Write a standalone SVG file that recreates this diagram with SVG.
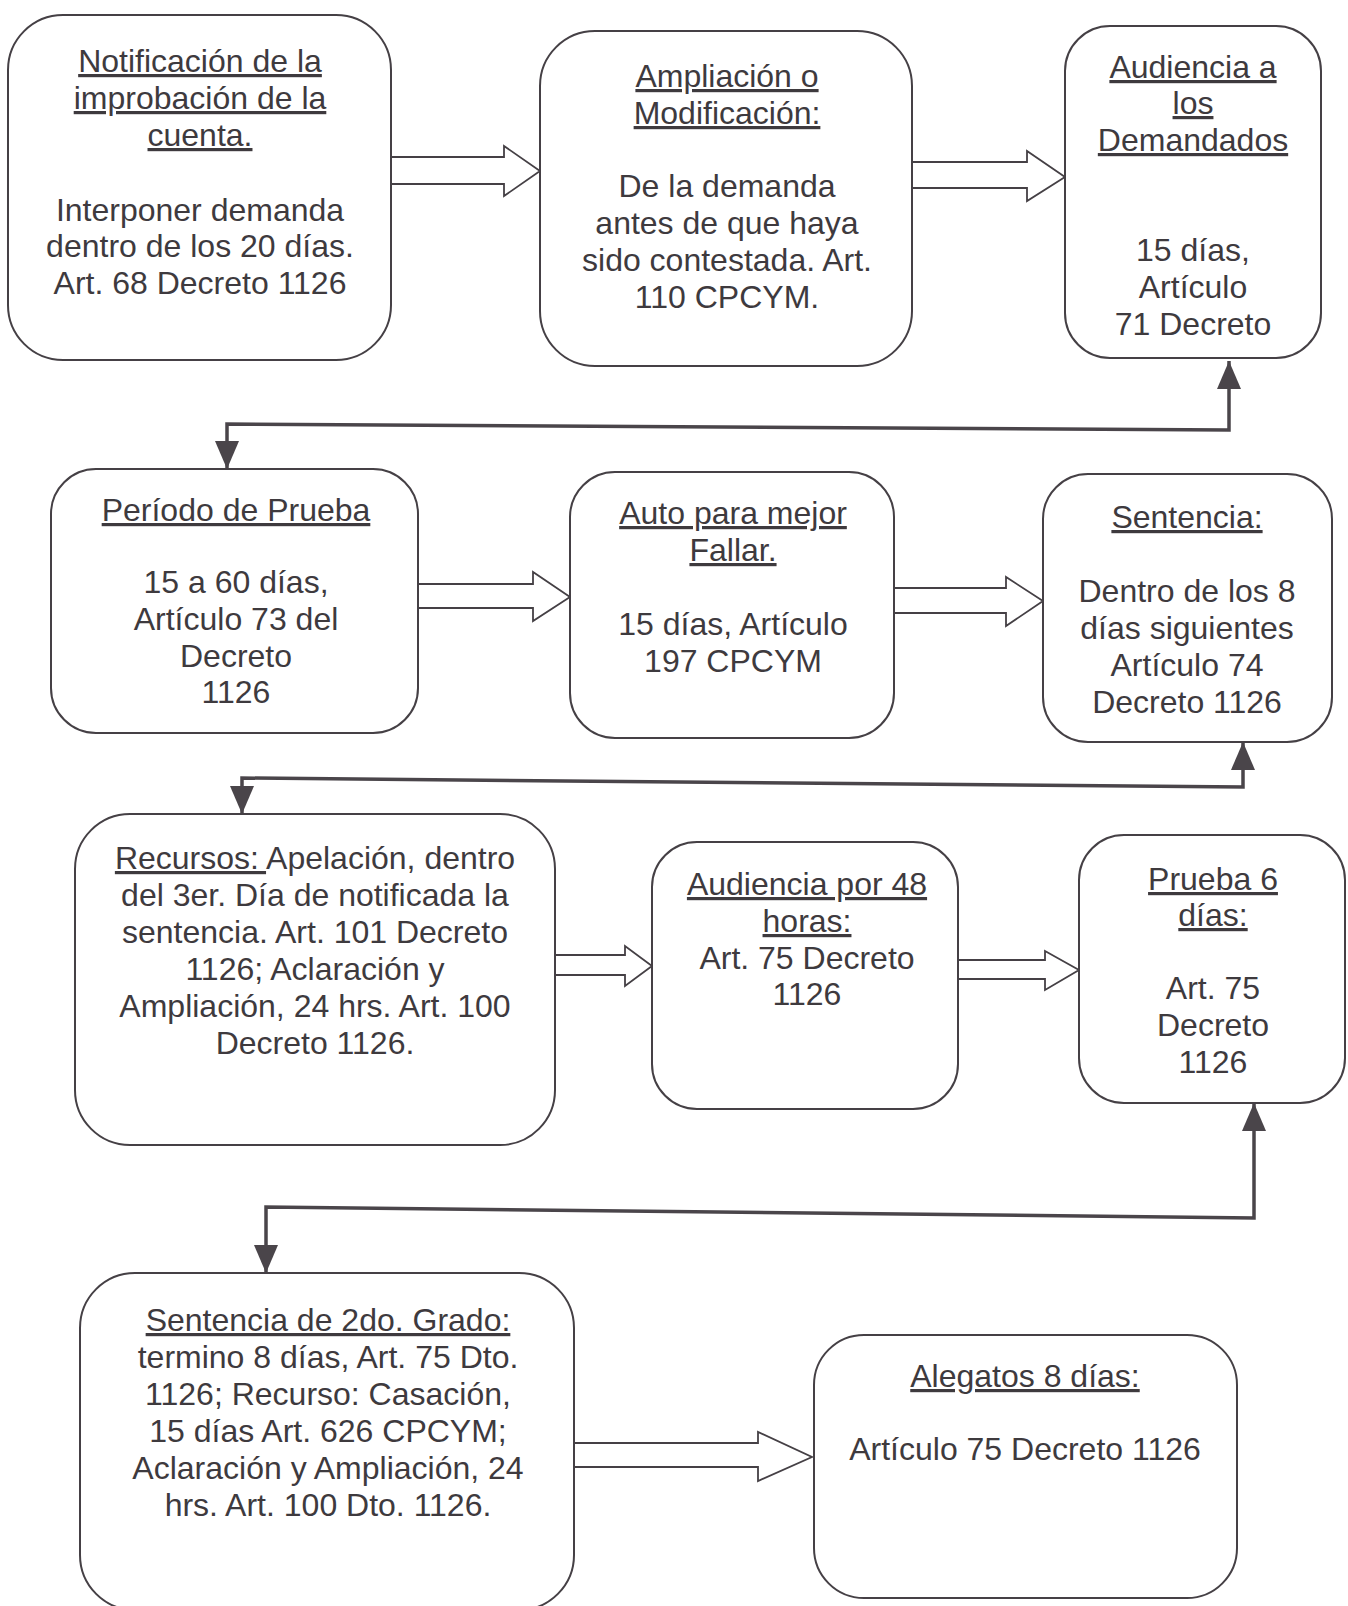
<svg xmlns="http://www.w3.org/2000/svg" width="1348" height="1606" viewBox="0 0 1348 1606">
<defs>
<style>
.box{fill:#ffffff;stroke:#454045;stroke-width:2}
.t{font-family:"Liberation Sans",Arial,sans-serif;font-size:32px;fill:#3e3a3e;text-anchor:middle}
.u{text-decoration:underline}
.blk{fill:#ffffff;stroke:#454045;stroke-width:1.8;stroke-linejoin:miter}
.con{fill:none;stroke:#4a454a;stroke-width:3.5}
</style>
<marker id="ah" viewBox="0 0 10 10" refX="10" refY="5" markerUnits="userSpaceOnUse" markerWidth="28" markerHeight="24" preserveAspectRatio="none" orient="auto-start-reverse">
<path d="M0,0 L10,5 L0,10 z" fill="#4a454a"/>
</marker>
</defs>
<rect width="1348" height="1606" fill="#ffffff"/>

<g id="connectors">
<polygon class="blk" points="391,157 504,157 504,146 540,171 504,196 504,184 391,184"/>
<polygon class="blk" points="912,162 1027,162 1027,151 1065,177 1027,201 1027,188 912,188"/>
<polygon class="blk" points="418,584 533,584 533,572 570,597 533,621 533,608 418,608"/>
<polygon class="blk" points="894,588 1006,588 1006,577 1043,601 1006,626 1006,613 894,613"/>
<polygon class="blk" points="555,955 625,955 625,946 652,966 625,986 625,975 555,975"/>
<polygon class="blk" points="958,960 1045,960 1045,951 1079,970 1045,990 1045,979 958,979"/>
<polygon class="blk" points="574,1443 758,1443 758,1432 812,1457 758,1481 758,1467 574,1467"/>
<path class="con" d="M227,469 L227,424 L1229,430 L1229,361" marker-start="url(#ah)" marker-end="url(#ah)"/>
<path class="con" d="M242,814 L242,778 L1243,787 L1243,742" marker-start="url(#ah)" marker-end="url(#ah)"/>
<path class="con" d="M266,1273 L266,1207 L1254,1218 L1254,1103" marker-start="url(#ah)" marker-end="url(#ah)"/>
</g>

<g id="n1">
<rect class="box" x="8" y="15" width="383" height="345" rx="55"/>
<text class="t"><tspan class="u" x="200" y="72">Notificación de la</tspan><tspan class="u" x="200" y="109">improbación de la</tspan><tspan class="u" x="200" y="146">cuenta.</tspan><tspan x="200" y="221">Interponer demanda</tspan><tspan x="200" y="257">dentro de los 20 días.</tspan><tspan x="200" y="294">Art. 68 Decreto 1126</tspan></text>
</g>

<g id="n2">
<rect class="box" x="540" y="31" width="372" height="335" rx="55"/>
<text class="t"><tspan class="u" x="727" y="87">Ampliación o</tspan><tspan class="u" x="727" y="124">Modificación:</tspan><tspan x="727" y="197">De la demanda</tspan><tspan x="727" y="234">antes de que haya</tspan><tspan x="727" y="271">sido contestada. Art.</tspan><tspan x="727" y="308">110 CPCYM.</tspan></text>
</g>

<g id="n3">
<rect class="box" x="1065" y="26" width="256" height="332" rx="45"/>
<text class="t"><tspan class="u" x="1193" y="78">Audiencia a</tspan><tspan class="u" x="1193" y="114">los</tspan><tspan class="u" x="1193" y="151">Demandados</tspan><tspan x="1193" y="261">15 días,</tspan><tspan x="1193" y="298">Artículo</tspan><tspan x="1193" y="335">71 Decreto</tspan></text>
</g>

<g id="n4">
<rect class="box" x="51" y="469" width="367" height="264" rx="45"/>
<text class="t"><tspan class="u" x="236" y="521">Período de Prueba</tspan><tspan x="236" y="593">15 a 60 días,</tspan><tspan x="236" y="630">Artículo 73 del</tspan><tspan x="236" y="667">Decreto</tspan><tspan x="236" y="703">1126</tspan></text>
</g>

<g id="n5">
<rect class="box" x="570" y="472" width="324" height="266" rx="45"/>
<text class="t"><tspan class="u" x="733" y="524">Auto para mejor</tspan><tspan class="u" x="733" y="561">Fallar.</tspan><tspan x="733" y="635">15 días, Artículo</tspan><tspan x="733" y="672">197 CPCYM</tspan></text>
</g>

<g id="n6">
<rect class="box" x="1043" y="474" width="289" height="268" rx="45"/>
<text class="t"><tspan class="u" x="1187" y="528">Sentencia:</tspan><tspan x="1187" y="602">Dentro de los 8</tspan><tspan x="1187" y="639">días siguientes</tspan><tspan x="1187" y="676">Artículo 74</tspan><tspan x="1187" y="713">Decreto 1126</tspan></text>
</g>

<g id="n7">
<rect class="box" x="75" y="814" width="480" height="331" rx="55"/>
<text class="t"><tspan x="315" y="869"><tspan class="u">Recursos: </tspan>Apelación, dentro</tspan><tspan x="315" y="906">del 3er. Día de notificada la</tspan><tspan x="315" y="943">sentencia. Art. 101 Decreto</tspan><tspan x="315" y="980">1126; Aclaración y</tspan><tspan x="315" y="1017">Ampliación, 24 hrs. Art. 100</tspan><tspan x="315" y="1054">Decreto 1126.</tspan></text>
</g>

<g id="n8">
<rect class="box" x="652" y="842" width="306" height="267" rx="45"/>
<text class="t"><tspan class="u" x="807" y="895">Audiencia por 48</tspan><tspan class="u" x="807" y="932">horas:</tspan><tspan x="807" y="969">Art. 75 Decreto</tspan><tspan x="807" y="1005">1126</tspan></text>
</g>

<g id="n9">
<rect class="box" x="1079" y="835" width="266" height="268" rx="45"/>
<text class="t"><tspan class="u" x="1213" y="890">Prueba 6</tspan><tspan class="u" x="1213" y="926">días:</tspan><tspan x="1213" y="999">Art. 75</tspan><tspan x="1213" y="1036">Decreto</tspan><tspan x="1213" y="1073">1126</tspan></text>
</g>

<g id="n10">
<rect class="box" x="80" y="1273" width="494" height="337" rx="55"/>
<text class="t"><tspan class="u" x="328" y="1331">Sentencia de 2do. Grado:</tspan><tspan x="328" y="1368">termino 8 días, Art. 75 Dto.</tspan><tspan x="328" y="1405">1126; Recurso: Casación,</tspan><tspan x="328" y="1442">15 días Art. 626 CPCYM;</tspan><tspan x="328" y="1479">Aclaración y Ampliación, 24</tspan><tspan x="328" y="1516">hrs. Art. 100 Dto. 1126.</tspan></text>
</g>

<g id="n11">
<rect class="box" x="814" y="1335" width="423" height="263" rx="50"/>
<text class="t"><tspan class="u" x="1025" y="1387">Alegatos 8 días:</tspan><tspan x="1025" y="1460">Artículo 75 Decreto 1126</tspan></text>
</g>
</svg>
